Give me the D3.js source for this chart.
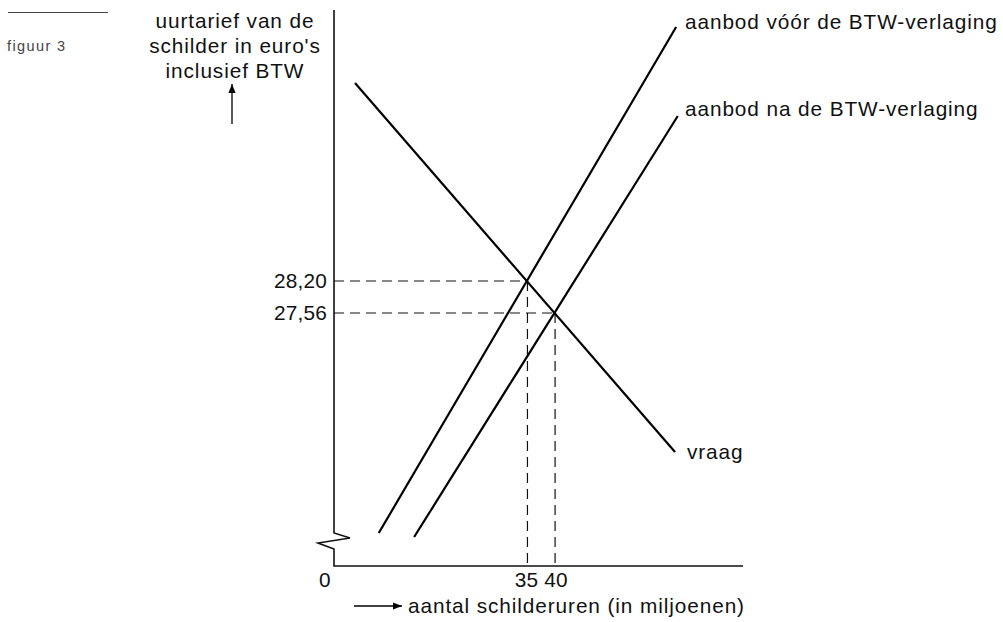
<!DOCTYPE html>
<html><head><meta charset="utf-8">
<script src="https://cdn.jsdelivr.net/npm/d3@7"></script>
<style>
html,body{margin:0;padding:0;background:#fff;}
text{font-family:"Liberation Sans",Arial,Helvetica,sans-serif;fill:#111;}
</style></head>
<body>
<svg id="chart" width="1003" height="622"></svg>
<script>
// Data (x: schilderuren in miljoenen, y: uurtarief in euro's)
const demand = [[3.8, 32.16], [61.7, 24.78]];
const supplyBefore = [[8.1, 23.16], [61.9, 33.28]];
const supplyAfter = [[14.5, 23.08], [62.2, 31.50]];
const equilibria = [[35, 28.20], [40, 27.56]];
const xTicks = [0, 35, 40];
const yTickLabels = ["28,20", "27,56"];
const lineLabels = ["aanbod vóór de BTW-verlaging", "aanbod na de BTW-verlaging", "vraag"];
const yTitle = ["uurtarief van de", "schilder in euro's", "inclusief BTW"];
const xTitle = "aantal schilderuren (in miljoenen)";

const svg = d3.select("#chart");
const x = d3.scaleLinear().domain([0, 74]).range([334, 743]);
const y = d3.scaleLinear().domain([22.5, 33.6]).range([566, 11]);
const FS = 20.8, LS = 0.9;

// figure label
svg.append("line").attr("x1", 8).attr("x2", 108).attr("y1", 12.5).attr("y2", 12.5)
  .attr("stroke", "#444").attr("stroke-width", 1);
svg.append("text").attr("x", 7).attr("y", 51).attr("font-size", 14.5)
  .attr("letter-spacing", 1.4).style("fill", "#444").text("figuur 3");

// axes
const axisColor = "#111";
svg.append("path")
  .attr("d", `M${x(0)},10 L${x(0)},533 L350,538 L318,543 L${x(0)},549 L${x(0)},${y(22.5)} L${x(74)},${y(22.5)}`)
  .attr("fill", "none").attr("stroke", axisColor).attr("stroke-width", 1.6);

// dashed guides
const dash = "10,6";
equilibria.forEach(([ex, ey]) => {
  svg.append("line").attr("x1", x(0)).attr("x2", x(ex)).attr("y1", y(ey)).attr("y2", y(ey))
    .attr("stroke", axisColor).attr("stroke-width", 1.2).attr("stroke-dasharray", dash);
  svg.append("line").attr("x1", x(ex)).attr("x2", x(ex)).attr("y1", y(ey)).attr("y2", y(22.5))
    .attr("stroke", axisColor).attr("stroke-width", 1.2).attr("stroke-dasharray", dash);
});

// curves
const line = d3.line().x(d => x(d[0])).y(d => y(d[1]));
[demand, supplyBefore, supplyAfter].forEach(s => {
  svg.append("path").attr("d", line(s)).attr("fill", "none")
    .attr("stroke", "#000").attr("stroke-width", 2.2);
});

function label(xp, yp, t, anchor) {
  return svg.append("text").attr("x", xp).attr("y", yp).attr("font-size", FS)
    .attr("letter-spacing", LS).attr("text-anchor", anchor || "start").text(t);
}
// line labels
label(685, 29, lineLabels[0]);
label(685, 116, lineLabels[1]);
label(687, 459, lineLabels[2]);

// y tick labels
equilibria.forEach(([ex, ey], i) => {
  label(327, y(ey), yTickLabels[i], "end").attr("dy", "0.36em").attr("letter-spacing", 0.2);
});
// x tick labels
const xOffsets = [-9, -1, 1];
xTicks.forEach((t, i) => {
  label(x(t) + xOffsets[i], 587, t, "middle").attr("letter-spacing", 0.2);
});

// y title
yTitle.forEach((t, i) => {
  label(235, 28 + i * 25, t, "middle");
});
// arrows
svg.append("defs").append("marker").attr("id", "ah").attr("viewBox", "0 0 10 10")
  .attr("refX", 10).attr("refY", 5).attr("markerWidth", 9).attr("markerHeight", 9)
  .attr("markerUnits", "userSpaceOnUse").attr("orient", "auto")
  .append("path").attr("d", "M0,1 L10,5 L0,9 Z").attr("fill", "#000");
svg.append("line").attr("x1", 232).attr("x2", 232).attr("y1", 124).attr("y2", 84)
  .attr("stroke", "#000").attr("stroke-width", 1.3).attr("marker-end", "url(#ah)");
svg.append("line").attr("x1", 354).attr("x2", 402).attr("y1", 606).attr("y2", 606)
  .attr("stroke", "#000").attr("stroke-width", 1.3).attr("marker-end", "url(#ah)");
label(408, 613, xTitle);
</script>
</body></html>
